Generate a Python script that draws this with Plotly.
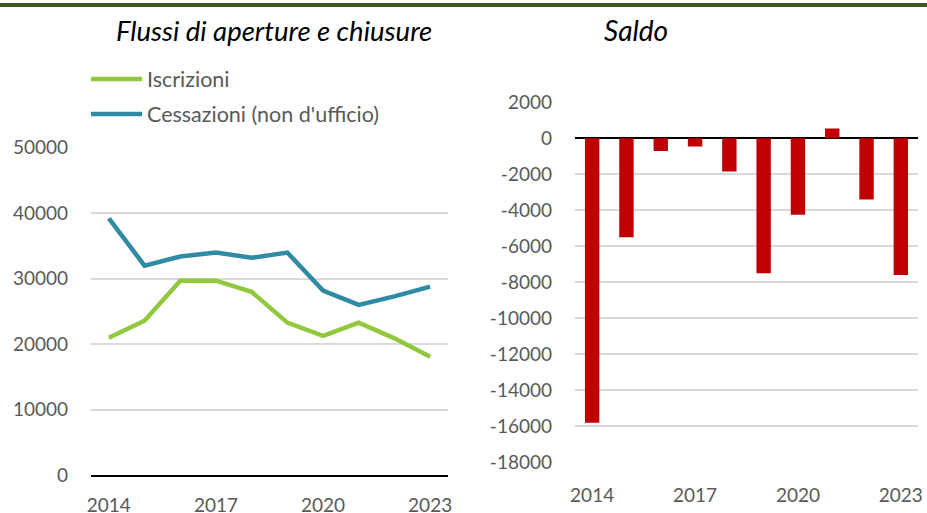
import plotly.graph_objects as go

years = [str(y) for y in range(2014, 2024)]
iscrizioni = [21000, 23600, 29700, 29700, 28000, 23300, 21300, 23300, 20900, 18100]
cessazioni = [39200, 32000, 33400, 34000, 33200, 34000, 28200, 26000, 27300, 28800]
saldo = [-15800, -5500, -700, -450, -1850, -7500, -4250, 550, -3400, -7600]
tick_years = ["2014", "2017", "2020", "2023"]
left_ticks = [0, 10000, 20000, 30000, 40000, 50000]
right_ticks = list(range(-18000, 2001, 2000))
series_names = ["Iscrizioni", "Cessazioni (non d'ufficio)"]
titles = ["Flussi di aperture e chiusure", "Saldo"]

W, H = 927, 513
GREEN = "#92C83E"
BLUE = "#2F8AA4"
RED = "#C00000"
FONT = "Lato"
TICKC = "#595959"


def px_x(x):
    return x / W


def px_y(y):
    return 1 - y / H


fig = go.Figure()
fig.add_trace(go.Scatter(x=years, y=iscrizioni, mode="lines", name=series_names[0],
                         line=dict(color=GREEN, width=4.5), xaxis="x", yaxis="y",
                         showlegend=False))
fig.add_trace(go.Scatter(x=years, y=cessazioni, mode="lines", name=series_names[1],
                         line=dict(color=BLUE, width=4.5), xaxis="x", yaxis="y",
                         showlegend=False))
fig.add_trace(go.Bar(x=years, y=saldo, marker=dict(color=RED, line=dict(width=0)),
                     xaxis="x2", yaxis="y2", showlegend=False))

tickfont = dict(family=FONT, size=19, color=TICKC)

fig.update_layout(
    width=W, height=H,
    margin=dict(l=0, r=0, t=0, b=0),
    paper_bgcolor="white", plot_bgcolor="white",
    bargap=0.58,
    xaxis=dict(domain=[px_x(91), px_x(448)], type="category", tickmode="array",
               tickvals=tick_years, ticktext=tick_years, showgrid=False,
               showline=True, linecolor="black", linewidth=1.5, ticks="",
               tickfont=tickfont, ticklabelstandoff=12, anchor="y",
               automargin=False, range=[-0.5, 9.5]),
    yaxis=dict(domain=[px_y(475.3), px_y(147.7)], range=[0, 50000],
               tickmode="array", tickvals=left_ticks,
               ticktext=[str(v) for v in left_ticks],
               showgrid=True, gridcolor="#D9D9D9", gridwidth=1.5,
               zeroline=False, tickfont=tickfont, ticklabelstandoff=22,
               automargin=False, anchor="x"),
    xaxis2=dict(domain=[px_x(575), px_x(918)], type="category", tickmode="array",
                tickvals=tick_years, ticktext=tick_years, showgrid=False,
                showline=False, ticks="", tickfont=tickfont, ticklabelstandoff=20,
                anchor="y2", automargin=False, range=[-0.5, 9.5]),
    yaxis2=dict(domain=[px_y(462.3), px_y(102.3)], range=[-18000, 2000],
                tickmode="array", tickvals=right_ticks,
                ticktext=[str(v) for v in right_ticks],
                showgrid=True, gridcolor="#D9D9D9", gridwidth=1.5,
                zeroline=True, zerolinecolor="black", zerolinewidth=1.5,
                tickfont=tickfont, ticklabelstandoff=22, automargin=False,
                anchor="x2"),
    shapes=[
        dict(type="rect", xref="paper", yref="paper", x0=0, x1=1,
             y0=px_y(7), y1=px_y(3), fillcolor="#3B5B23", line=dict(width=0)),
        dict(type="line", xref="paper", yref="paper", x0=px_x(91), x1=px_x(142),
             y0=px_y(79), y1=px_y(79), line=dict(color=GREEN, width=4.5)),
        dict(type="line", xref="paper", yref="paper", x0=px_x(91), x1=px_x(142),
             y0=px_y(114), y1=px_y(114), line=dict(color=BLUE, width=4.5)),
    ],
    annotations=[
        dict(text=titles[0], xref="paper", yref="paper", x=px_x(273.5), y=px_y(30),
             showarrow=False, xanchor="center", yanchor="middle",
             font=dict(family=FONT, size=27.5, color="black", style="italic")),
        dict(text=titles[1], xref="paper", yref="paper", x=px_x(636), y=px_y(30),
             showarrow=False, xanchor="center", yanchor="middle",
             font=dict(family=FONT, size=28, color="black", style="italic")),
        dict(text=series_names[0], xref="paper", yref="paper", x=px_x(145), y=px_y(79),
             showarrow=False, xanchor="left", yanchor="middle",
             font=dict(family=FONT, size=21.5, color=TICKC)),
        dict(text=series_names[1], xref="paper", yref="paper", x=px_x(145), y=px_y(114),
             showarrow=False, xanchor="left", yanchor="middle",
             font=dict(family=FONT, size=21.5, color=TICKC)),
    ],
)

fig.write_html("out.html", config={"displayModeBar": False},
               post_script="document.body.style.margin='0';")
